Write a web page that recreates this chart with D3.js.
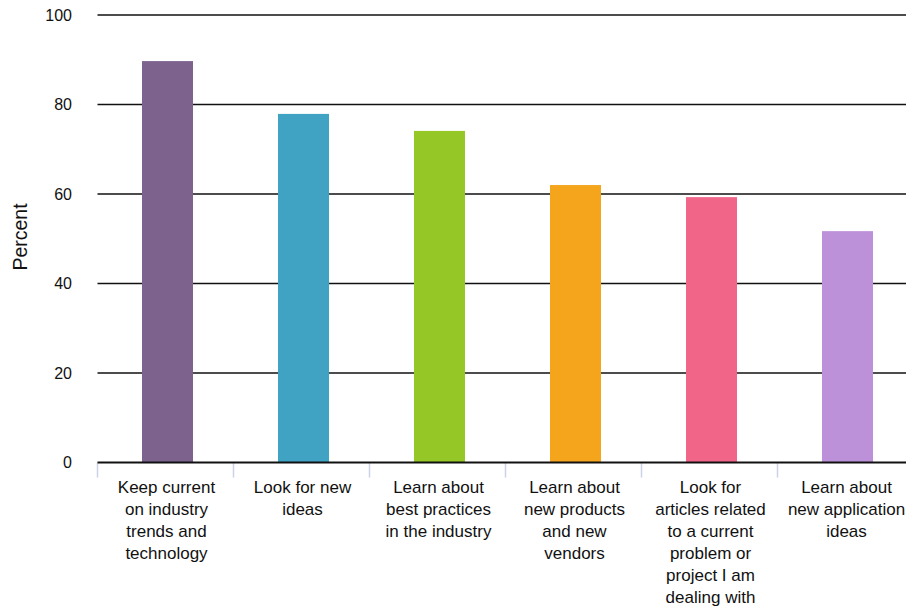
<!DOCTYPE html>
<html>
<head>
<meta charset="utf-8">
<script src="https://cdn.jsdelivr.net/npm/d3@7"></script>
<style>
  html, body { margin: 0; padding: 0; background: #fff; }
  svg { display: block; font-family: "Liberation Sans", Arial, Helvetica, sans-serif; }
</style>
</head>
<body>
<svg id="chart" width="906" height="610"></svg>
<script>
// Reasons for reading the publication (percent of respondents)
const categories = [
  "Keep current on industry trends and technology",
  "Look for new ideas",
  "Learn about best practices in the industry",
  "Learn about new products and new vendors",
  "Look for articles related to a current problem or project I am dealing with",
  "Learn about new application ideas"
];
const labelLines = [
  ["Keep current", "on industry", "trends and", "technology"],
  ["Look for new", "ideas"],
  ["Learn about", "best practices", "in the industry"],
  ["Learn about", "new products", "and new", "vendors"],
  ["Look for", "articles related", "to a current", "problem or", "project I am", "dealing with"],
  ["Learn about", "new application", "ideas"]
];
const values = [89.7, 77.9, 74.1, 62.0, 59.3, 51.7];
const colors = ["#7d628e", "#40a3c4", "#95c727", "#f4a51b", "#f06588", "#bd91d9"];
const yTicks = [0, 20, 40, 60, 80, 100];

const svg = d3.select("#chart");
const W = 906, H = 610;
const x0 = 97.5, step = 136;
const yTop = 15, yBot = 462.5;

// category slots (ticks, labels) and bars
const xTick = d3.scaleBand().domain(categories).range([x0, x0 + step * categories.length]);
const x = d3.scaleBand().domain(categories)
  .range([x0 + 2, x0 + 2 + step * categories.length])
  .paddingInner(0.625).paddingOuter(0.3125);
const y = d3.scaleLinear().domain([0, 100]).range([yBot, yTop]);

// horizontal gridlines
svg.append("g").selectAll("line").data(yTicks.filter(t => t > 0)).join("line")
  .attr("x1", x0).attr("x2", W)
  .attr("y1", d => y(d)).attr("y2", d => y(d))
  .attr("stroke", "#111").attr("stroke-width", 1.6);

// y tick labels
svg.append("g").selectAll("text").data(yTicks).join("text")
  .attr("x", 72).attr("y", d => y(d))
  .attr("dy", "0.35em")
  .attr("text-anchor", "end")
  .attr("font-size", 16).attr("fill", "#111")
  .text(d => d);

// y axis title
svg.append("text")
  .attr("transform", `translate(27,${237}) rotate(-90)`)
  .attr("text-anchor", "middle")
  .attr("font-size", 19.5).attr("fill", "#111")
  .text("Percent");

// bars
svg.append("g").selectAll("rect").data(values).join("rect")
  .attr("x", (d, i) => x(categories[i]))
  .attr("width", x.bandwidth())
  .attr("y", d => y(d))
  .attr("height", d => y(0) - y(d))
  .attr("fill", (d, i) => colors[i]);

// category tick marks
svg.append("g").selectAll("line").data(categories).join("line")
  .attr("x1", c => xTick(c)).attr("x2", c => xTick(c))
  .attr("y1", yBot).attr("y2", yBot + 15)
  .attr("stroke", "#c9d3e6").attr("stroke-width", 1.5);

// baseline
svg.append("line")
  .attr("x1", x0).attr("x2", W)
  .attr("y1", y(0)).attr("y2", y(0))
  .attr("stroke", "#111").attr("stroke-width", 2);

// category labels
const lab = svg.append("g").selectAll("text").data(categories).join("text")
  .attr("text-anchor", "middle")
  .attr("font-size", 17).attr("fill", "#111")
  .attr("transform", c => `translate(${xTick(c) + xTick.bandwidth() / 2 + 1},${yBot + 30})`);
lab.each(function(c, i) {
  d3.select(this).selectAll("tspan").data(labelLines[i]).join("tspan")
    .attr("x", 0).attr("y", (d, j) => j * 22)
    .text(d => d);
});
</script>
</body>
</html>
